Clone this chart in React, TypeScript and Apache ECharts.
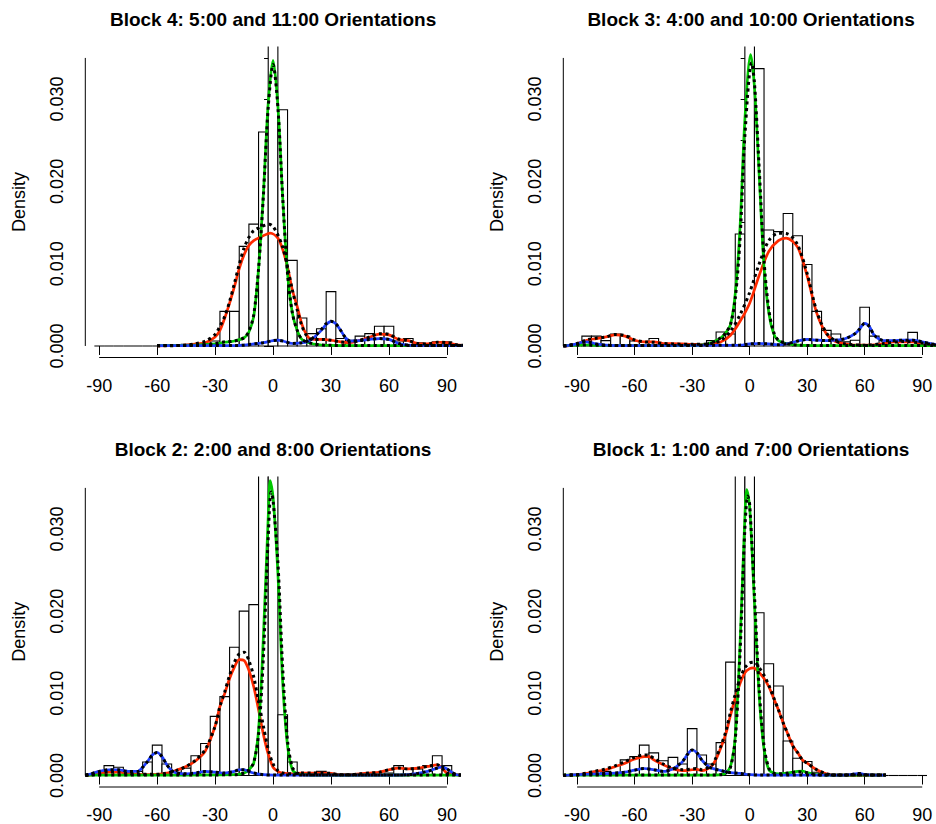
import React, { useEffect, useRef } from "react";
import * as echarts from "echarts";

// ---------- data (densities are in units of 0.001) ----------
const binCenters = [-90, -85, -80, -75, -70, -65, -60, -55, -50, -45, -40, -35, -30, -25, -20, -15, -10, -5, 0, 5, 10, 15, 20, 25, 30, 35, 40, 45, 50, 55, 60, 65, 70, 75, 80, 85, 90];
const binWidth = 5;

const histB4 = [0, 0, 0, 0, 0, 0, 0, 0, 0, 0.2, 0.2, 0.3, 0.6, 4.2, 4.2, 12.1, 14.8, 26.0, 45, 28.7, 10.4, 3.4, 1.5, 2.1, 6.6, 0.9, 0.7, 1.2, 1.5, 2.4, 2.4, 0.6, 0.9, 0.4, 0.2, 0.5, 0.5];
const histB3 = [0, 1.2, 1.2, 0.65, 1.45, 1.2, 0.6, 0.5, 0.9, 0.3, 0.3, 0.3, 0.3, 0.2, 0.65, 1.7, 1.45, 13.6, 45, 33.7, 14.1, 13.9, 16.1, 13.4, 9.9, 4.2, 1.9, 1.45, 0.5, 0.7, 4.7, 1.2, 0.25, 0.65, 0.65, 1.65, 0.3];
const histB2 = [0.4, 1.2, 1.0, 0.5, 0.5, 1.65, 3.7, 1.4, 0.4, 0.9, 2.4, 3.9, 7.2, 9.6, 15.6, 20.0, 20.8, 40, 42, 7.4, 1.65, 0.3, 0.2, 0.5, 0.1, 0, 0, 0, 0.1, 0.1, 0.3, 1.2, 0.8, 0.8, 1.2, 2.4, 1.2];
const histB1 = [0, 0.2, 0.5, 0.5, 0.3, 1.9, 2.3, 3.7, 2.75, 1.8, 2.2, 1.4, 5.7, 2.5, 1.4, 4.0, 13.8, 40, 45, 19.8, 13.6, 10.9, 4.2, 2.1, 1.7, 0.4, 0, 0, 0, 0.1, 0, 0, 0, 0, 0, 0, 0];

// Block 4
const greenB4 = [[-60, 0.05], [-50, 0.08], [-40, 0.12], [-35, 0.18], [-30, 0.25], [-25, 0.45], [-20, 0.6], [-15, 1.0], [-12.5, 1.7], [-10, 3.6], [-7.5, 9.4], [-5, 18.5], [-2.5, 29.5], [0, 34.7], [2.5, 29.2], [5, 18.0], [7.5, 8.8], [10, 4.0], [12.5, 1.9], [15, 0.8], [20, 0.3], [25, 0.12], [30, 0.08], [40, 0.05], [70, 0.05], [100, 0.05]];
const redB4 = [[-60, 0], [-50, 0.05], [-45, 0.1], [-40, 0.25], [-35, 0.4], [-30, 1.1], [-27.5, 1.9], [-25, 3.4], [-22.5, 5.2], [-20, 7.2], [-17.5, 9.4], [-15, 11.1], [-12.5, 12.2], [-10, 12.8], [-5, 13.4], [-1.5, 13.7], [2.5, 13.1], [5, 11.7], [7.5, 9.6], [10, 6.8], [12.5, 4.8], [15, 2.6], [17.5, 1.3], [20, 0.8], [25, 0.8], [30, 0.7], [35, 0.5], [40, 0.4], [45, 0.7], [50, 1.05], [55, 1.45], [60, 1.35], [65, 0.8], [70, 0.65], [75, 0.3], [80, 0.25], [85, 0.45], [90, 0.4], [95, 0.15], [100, 0.05]];
const blueB4 = [[-60, 0.05], [-20, 0.05], [-15, 0.1], [-10, 0.25], [-5, 0.4], [0, 0.65], [2.5, 0.7], [5, 0.6], [10, 0.3], [15, 0.4], [17.5, 0.5], [20, 0.8], [25, 1.9], [27.5, 2.6], [30, 3.0], [32.5, 2.7], [35, 1.9], [37.5, 1.0], [40, 0.6], [45, 0.65], [50, 0.8], [55, 0.9], [60, 0.8], [65, 0.3], [70, 0.1], [80, 0.05], [100, 0.05]];
const dGreenB4 = [[-60, 0.05], [-40, 0.1], [-30, 0.3], [-25, 0.5], [-20, 0.6], [-15, 1.0], [-12.5, 1.8], [-10, 3.8], [-7.5, 9.4], [-5, 18.3], [-2.5, 29.0], [0, 34.2], [2.5, 29.0], [5, 18.0], [7.5, 8.8], [10, 4.0], [12.5, 1.9], [15, 0.8], [20, 0.3], [25, 0.12], [30, 0.08], [40, 0.05], [100, 0.05]];
const dRedB4 = [[-60, 0], [-45, 0.1], [-40, 0.3], [-35, 0.6], [-30, 1.4], [-27.5, 2.4], [-25, 3.6], [-22.5, 5.4], [-20, 7.6], [-17.5, 9.9], [-15, 11.9], [-12.5, 13.2], [-10, 14.0], [-5, 14.6], [-2, 14.8], [0, 14.5], [2.5, 13.5], [5, 12.0], [7.5, 9.6], [10, 6.8], [12.5, 4.4], [15, 2.4], [17.5, 1.2], [20, 0.8], [25, 0.8], [30, 0.7], [35, 0.5], [40, 0.45], [45, 0.7], [50, 1.1], [55, 1.5], [60, 1.4], [65, 0.85], [70, 0.65], [75, 0.3], [80, 0.25], [85, 0.45], [90, 0.4], [95, 0.15], [100, 0.05]];
const dBlueB4 = [[-60, 0.05], [-20, 0.05], [-15, 0.1], [-10, 0.25], [-5, 0.4], [0, 0.65], [2.5, 0.7], [5, 0.6], [10, 0.3], [15, 0.4], [17.5, 0.55], [20, 0.85], [25, 2.0], [27.5, 2.7], [30, 3.0], [32.5, 2.7], [35, 1.9], [37.5, 1.0], [40, 0.6], [45, 0.65], [50, 0.8], [55, 0.9], [60, 0.8], [65, 0.3], [70, 0.1], [80, 0.05], [100, 0.05]];

// Block 3
const greenB3 = [[-97.2, 0.05], [-90, 0.1], [-85, 0.12], [-80, 0.08], [-60, 0.05], [-40, 0.05], [-30, 0.08], [-25, 0.1], [-20, 0.4], [-15, 1.0], [-12.5, 1.6], [-10, 2.6], [-7.5, 6.4], [-5, 14.5], [-2.5, 27.5], [0.5, 35.4], [2.5, 31.5], [5, 20.6], [7.5, 9.6], [10, 4.0], [12.5, 1.5], [15, 0.65], [20, 0.25], [25, 0.1], [40, 0.05], [97.2, 0.05]];
const redB3 = [[-97.2, 0], [-95, 0.02], [-90, 0.25], [-85, 0.7], [-80, 0.9], [-75, 1.1], [-70, 1.35], [-65, 1.2], [-60, 0.7], [-55, 0.5], [-50, 0.5], [-45, 0.3], [-40, 0.3], [-35, 0.25], [-30, 0.2], [-25, 0.1], [-20, 0.25], [-15, 0.5], [-10, 1.3], [-5, 3.0], [0, 5.2], [5, 8.6], [10, 11.5], [15, 12.8], [19, 13.1], [25, 12.0], [30, 8.5], [35, 4.0], [40, 1.5], [45, 0.5], [50, 0.25], [55, 0.1], [60, 0.1], [65, 0.15], [70, 0.3], [75, 0.5], [80, 0.5], [85, 0.5], [90, 0.3], [95, 0.15], [97.2, 0.1]];
const blueB3 = [[-97.2, 0], [-95, 0.05], [-90, 0.25], [-87.5, 0.45], [-85, 0.5], [-82.5, 0.4], [-80, 0.25], [-75, 0.1], [-70, 0.05], [-5, 0.1], [0, 0.25], [5, 0.3], [10, 0.25], [15, 0.15], [20, 0.3], [25, 0.6], [30, 0.8], [35, 0.7], [40, 0.65], [45, 0.7], [50, 0.9], [55, 1.5], [57.5, 2.1], [60, 2.75], [62.5, 2.35], [65, 1.3], [70, 0.65], [75, 0.65], [80, 0.7], [85, 0.7], [90, 0.5], [95, 0.25], [97.2, 0.15]];
const dGreenB3 = [[-97.2, 0.05], [-90, 0.1], [-85, 0.12], [-80, 0.08], [-60, 0.05], [-40, 0.05], [-30, 0.08], [-25, 0.1], [-20, 0.4], [-15, 1.0], [-12.5, 1.6], [-10, 2.6], [-7.5, 5.8], [-5, 13.0], [-2.5, 25.5], [1, 34.4], [2.5, 32.0], [5, 21.5], [7.5, 10.4], [10, 4.4], [12.5, 1.7], [15, 0.7], [20, 0.25], [25, 0.1], [40, 0.05], [97.2, 0.05]];
const dRedB3 = [[-97.2, 0], [-95, 0.03], [-90, 0.3], [-85, 0.75], [-80, 0.95], [-75, 1.1], [-70, 1.4], [-65, 1.25], [-60, 0.75], [-55, 0.5], [-50, 0.45], [-45, 0.3], [-40, 0.25], [-30, 0.2], [-20, 0.3], [-15, 0.7], [-10, 1.8], [-5, 3.8], [0, 6.5], [5, 10.0], [10, 12.8], [15, 13.7], [20, 13.6], [25, 12.3], [30, 8.8], [35, 4.2], [40, 1.6], [45, 0.6], [50, 0.25], [60, 0.1], [70, 0.3], [80, 0.55], [90, 0.35], [97.2, 0.1]];
const dBlueB3 = [[-97.2, 0], [-95, 0.05], [-90, 0.25], [-87.5, 0.45], [-85, 0.5], [-82.5, 0.4], [-80, 0.25], [-75, 0.1], [-70, 0.05], [-5, 0.1], [0, 0.25], [5, 0.3], [10, 0.25], [15, 0.15], [20, 0.3], [25, 0.6], [30, 0.8], [35, 0.7], [40, 0.65], [45, 0.7], [50, 0.9], [55, 1.5], [57.5, 2.1], [60, 2.75], [62.5, 2.35], [65, 1.3], [70, 0.65], [75, 0.65], [80, 0.7], [85, 0.7], [90, 0.5], [95, 0.25], [97.2, 0.15]];

// Block 2
const greenB2 = [[-97.2, 0.05], [-60, 0.05], [-20, 0.1], [-15, 0.3], [-12.5, 0.7], [-10, 1.5], [-7.5, 5.6], [-5, 16.9], [-2.5, 31.5], [-1.5, 35.9], [0, 33.9], [2.5, 24.6], [5, 11.3], [7.5, 3.6], [10, 0.7], [12.5, 0.2], [15, 0.1], [20, 0.05], [97.2, 0.05]];
const redB2 = [[-97.2, 0], [-95, 0.05], [-90, 0.2], [-85, 0.4], [-80, 0.4], [-75, 0.25], [-70, 0.15], [-65, 0.12], [-60, 0.15], [-55, 0.3], [-50, 0.65], [-45, 1.1], [-40, 1.8], [-35, 3.0], [-30, 6.0], [-27.5, 8.4], [-25, 10.0], [-22.5, 11.8], [-20, 13.2], [-17.5, 14.1], [-15, 14.0], [-12.5, 12.8], [-10, 10.8], [-7.5, 8.0], [-5, 5.0], [-2.5, 2.6], [0, 1.0], [2.5, 0.5], [5, 0.3], [10, 0.2], [15, 0.3], [20, 0.3], [25, 0.3], [30, 0.25], [35, 0.1], [40, 0.1], [45, 0.2], [50, 0.3], [55, 0.4], [60, 0.7], [65, 0.9], [70, 0.8], [75, 0.9], [80, 1.1], [85, 1.3], [87.5, 0.9], [90, 0.3], [95, 0.1], [97.2, 0.05]];
const blueB2 = [[-97.2, 0.05], [-95, 0.15], [-90, 0.5], [-85, 0.7], [-80, 0.7], [-75, 0.5], [-70, 0.5], [-67.5, 1.0], [-65, 1.7], [-62.5, 2.5], [-60, 2.8], [-57.5, 2.3], [-55, 1.3], [-52.5, 0.6], [-50, 0.3], [-45, 0.2], [-40, 0.3], [-35, 0.5], [-30, 0.4], [-25, 0.3], [-20, 0.5], [-17.5, 0.7], [-15, 0.7], [-12.5, 0.5], [-10, 0.3], [-5, 0.1], [0, 0.05], [60, 0.05], [70, 0.1], [75, 0.25], [80, 0.5], [85, 0.9], [87.5, 1.05], [90, 0.8], [92.5, 0.4], [95, 0.1], [97.2, 0.05]];
const dGreenB2 = [[-97.2, 0.05], [-60, 0.05], [-20, 0.1], [-15, 0.3], [-12.5, 0.7], [-10, 1.6], [-7.5, 5.0], [-5, 14.5], [-2.5, 29.0], [-1, 34.5], [0, 33.5], [2.5, 26.0], [5, 13.0], [7.5, 4.2], [10, 1.0], [12.5, 0.3], [15, 0.1], [20, 0.05], [97.2, 0.05]];
const dRedB2 = [[-97.2, 0], [-95, 0.05], [-90, 0.25], [-85, 0.45], [-80, 0.4], [-75, 0.25], [-70, 0.15], [-60, 0.15], [-55, 0.3], [-50, 0.6], [-45, 1.1], [-40, 1.9], [-35, 3.2], [-30, 6.0], [-27.5, 8.4], [-25, 10.2], [-22.5, 12.2], [-20, 13.8], [-17.5, 14.8], [-15, 15.0], [-12.5, 14.0], [-10, 12.0], [-7.5, 9.0], [-5, 6.0], [-2.5, 3.2], [0, 1.4], [2.5, 0.6], [5, 0.3], [10, 0.2], [15, 0.3], [20, 0.3], [25, 0.3], [30, 0.25], [35, 0.1], [40, 0.1], [45, 0.2], [50, 0.3], [55, 0.4], [60, 0.7], [65, 0.9], [70, 0.8], [75, 0.9], [80, 1.1], [85, 1.3], [87.5, 0.9], [90, 0.3], [95, 0.1], [97.2, 0.05]];
const dBlueB2 = [[-97.2, 0.05], [-95, 0.15], [-90, 0.5], [-85, 0.7], [-80, 0.7], [-75, 0.5], [-70, 0.5], [-67.5, 1.0], [-65, 1.7], [-62.5, 2.5], [-60, 2.8], [-57.5, 2.3], [-55, 1.3], [-52.5, 0.6], [-50, 0.3], [-45, 0.2], [-40, 0.3], [-35, 0.5], [-30, 0.4], [-25, 0.3], [-20, 0.5], [-17.5, 0.7], [-15, 0.7], [-12.5, 0.5], [-10, 0.3], [-5, 0.1], [0, 0.05], [60, 0.05], [70, 0.1], [75, 0.25], [80, 0.5], [85, 0.9], [87.5, 1.05], [90, 0.8], [92.5, 0.4], [95, 0.1], [97.2, 0.05]];

// Block 1
const greenB1 = [[-97.2, 0.05], [-20, 0.05], [-15, 0.1], [-12.5, 0.3], [-10, 1.1], [-7.5, 4.8], [-5, 16.1], [-2.5, 31.5], [-1.5, 34.8], [0, 32.7], [2.5, 21.0], [5, 9.6], [7.5, 3.2], [10, 0.7], [12.5, 0.3], [15, 0.2], [20, 0.3], [25, 0.5], [27.5, 0.55], [30, 0.35], [35, 0.1], [40, 0.05], [71, 0.05]];
const redB1 = [[-97.2, 0], [-90, 0.1], [-85, 0.25], [-80, 0.5], [-75, 0.7], [-70, 1.1], [-65, 1.5], [-60, 2.0], [-55, 2.3], [-52.5, 2.3], [-50, 1.9], [-45, 1.3], [-40, 0.8], [-35, 0.6], [-30, 0.7], [-27.5, 0.75], [-25, 0.6], [-20, 1.1], [-17.5, 2.0], [-15, 3.4], [-12.5, 5.0], [-10, 7.3], [-7.5, 9.4], [-5, 11.2], [-2.5, 12.5], [0, 13.0], [2, 13.1], [5, 12.5], [7.5, 11.8], [10, 10.8], [12.5, 9.4], [15, 8.0], [17.5, 6.4], [20, 5.0], [22.5, 3.6], [25, 2.8], [27.5, 1.9], [30, 1.5], [35, 0.7], [40, 0.2], [45, 0.05], [71, 0.05]];
const blueB1 = [[-97.2, 0], [-90, 0.1], [-80, 0.2], [-70, 0.3], [-65, 0.4], [-60, 0.65], [-55, 0.85], [-50, 0.7], [-45, 0.5], [-40, 0.8], [-37.5, 1.2], [-35, 1.7], [-32.5, 2.55], [-30, 3.1], [-27.5, 2.75], [-25, 1.9], [-22.5, 1.3], [-20, 0.9], [-15, 0.6], [-10, 0.35], [-5, 0.25], [0, 0.1], [5, 0.05], [50, 0.05], [55, 0.2], [57.5, 0.25], [60, 0.1], [65, 0.05], [71, 0.05]];
const dGreenB1 = [[-97.2, 0.05], [-20, 0.05], [-15, 0.1], [-12.5, 0.3], [-10, 1.0], [-7.5, 4.4], [-5, 15.0], [-2.5, 30.0], [-1, 34.0], [0, 33.0], [2.5, 22.0], [5, 10.4], [7.5, 3.6], [10, 0.9], [12.5, 0.3], [15, 0.2], [20, 0.3], [25, 0.45], [30, 0.35], [35, 0.1], [40, 0.05], [71, 0.05]];
const dRedB1 = [[-97.2, 0], [-90, 0.1], [-85, 0.3], [-80, 0.55], [-75, 0.8], [-70, 1.2], [-65, 1.7], [-60, 2.2], [-55, 2.5], [-52.5, 2.45], [-50, 2.1], [-45, 1.4], [-40, 0.9], [-35, 0.7], [-30, 0.8], [-27.5, 0.85], [-25, 0.7], [-20, 1.2], [-17.5, 2.2], [-15, 3.6], [-12.5, 5.3], [-10, 7.7], [-7.5, 9.9], [-5, 11.8], [-2.5, 13.1], [0, 13.7], [2.5, 13.8], [5, 13.1], [7.5, 12.2], [10, 11.0], [12.5, 9.5], [15, 8.0], [17.5, 6.4], [20, 5.0], [22.5, 3.6], [25, 2.8], [27.5, 1.9], [30, 1.5], [35, 0.7], [40, 0.2], [45, 0.05], [71, 0.05]];
const dBlueB1 = [[-97.2, 0], [-90, 0.1], [-80, 0.2], [-70, 0.3], [-65, 0.4], [-60, 0.65], [-55, 0.85], [-50, 0.7], [-45, 0.5], [-40, 0.8], [-37.5, 1.2], [-35, 1.7], [-32.5, 2.55], [-30, 3.1], [-27.5, 2.75], [-25, 1.9], [-22.5, 1.3], [-20, 0.9], [-15, 0.6], [-10, 0.35], [-5, 0.25], [0, 0.1], [5, 0.05], [50, 0.05], [55, 0.2], [57.5, 0.25], [60, 0.1], [65, 0.05], [71, 0.05]];

const titles = [
  "Block 4: 5:00 and 11:00 Orientations",
  "Block 3: 4:00 and 10:00 Orientations",
  "Block 2: 2:00 and 8:00 Orientations",
  "Block 1: 1:00 and 7:00 Orientations",
];

const xTicks = [-90, -60, -30, 0, 30, 60, 90];
const yTicks = [0, 5, 10, 15, 20, 25, 30, 35];
const yLabelValues = [0, 10, 20, 30];

// ---------- layout / style ----------
const X_MIN = -97.2;
const X_MAX = 97.2;
const Y_MIN = -1.4;
const Y_MAX = 36.4;
const GW = 375.5;
const GH = 311.1;
const gridPos = [
  { left: 85.3, top: 46.4 },
  { left: 563.3, top: 46.4 },
  { left: 85.3, top: 476.4 },
  { left: 563.3, top: 476.4 },
];
const FONT = '"Liberation Sans", Arial, Helvetica, sans-serif';
const C_GREEN = "#00c800";
const C_RED = "#ff2a00";
const C_BLUE = "#1f3fff";

const panels = [
  { hist: histB4, green: greenB4, red: redB4, blue: blueB4, dG: dGreenB4, dR: dRedB4, dB: dBlueB4 },
  { hist: histB3, green: greenB3, red: redB3, blue: blueB3, dG: dGreenB3, dR: dRedB3, dB: dBlueB3 },
  { hist: histB2, green: greenB2, red: redB2, blue: blueB2, dG: dGreenB2, dR: dRedB2, dB: dBlueB2 },
  { hist: histB1, green: greenB1, red: redB1, blue: blueB1, dG: dGreenB1, dR: dRedB1, dB: dBlueB1 },
];

function buildOption() {
  const grid: any[] = [];
  const xAxis: any[] = [];
  const yAxis: any[] = [];
  const series: any[] = [];
  const graphic: any[] = [];

  panels.forEach((p, i) => {
    const g = gridPos[i];
    grid.push({ left: g.left, top: g.top, width: GW, height: GH, containLabel: false });
    xAxis.push({
      gridIndex: i,
      type: "value",
      min: X_MIN,
      max: X_MAX,
      axisLine: { show: false },
      splitLine: { show: false },
      axisTick: { show: true, customValues: xTicks, length: 9, lineStyle: { color: "#000", width: 1 } },
      axisLabel: { show: true, customValues: xTicks, margin: 19, fontSize: 18, color: "#000", fontFamily: FONT },
    });
    yAxis.push({
      gridIndex: i,
      type: "value",
      min: Y_MIN,
      max: Y_MAX,
      name: "Density",
      nameLocation: "middle",
      nameRotate: 90,
      nameGap: 57,
      nameTextStyle: { fontSize: 18, color: "#000", fontFamily: FONT },
      axisLine: { show: false },
      splitLine: { show: false },
      axisTick: { show: true, customValues: yTicks, length: 9, lineStyle: { color: "#000", width: 1 } },
      axisLabel: {
        show: true,
        customValues: yLabelValues,
        rotate: 90,
        margin: 19,
        fontSize: 18,
        color: "#000",
        fontFamily: FONT,
        formatter: (v: number) => (v / 1000).toFixed(3),
      },
    });

    const histData = binCenters.map((c, k) => [c, p.hist[k]]);
    series.push({
      type: "custom",
      xAxisIndex: i,
      yAxisIndex: i,
      clip: true,
      silent: true,
      data: histData,
      renderItem: (params: any, api: any) => {
        const c = api.value(0);
        const h = api.value(1);
        const p0 = api.coord([c - binWidth / 2, 0]);
        const p1 = api.coord([c + binWidth / 2, h]);
        if (h <= 0) {
          return {
            type: "line",
            shape: { x1: p0[0], y1: p0[1], x2: p1[0], y2: p0[1] },
            style: { stroke: "#000", lineWidth: 1.1, fill: null },
          };
        }
        return {
          type: "rect",
          shape: { x: p0[0], y: p1[1], width: p1[0] - p0[0], height: p0[1] - p1[1] },
          style: { fill: "#fff", stroke: "#000", lineWidth: 1.1 },
        };
      },
      z: 1,
    });

    const addLine = (data: number[][], color: string, dotted: boolean, z: number) => {
      series.push({
        type: "line",
        xAxisIndex: i,
        yAxisIndex: i,
        data,
        smooth: 0.3,
        showSymbol: false,
        symbol: "none",
        silent: true,
        clip: true,
        lineStyle: {
          color,
          width: dotted ? 3 : 2.7,
          type: dotted ? [3, 3.5] : "solid",
        },
        z,
      });
    };
    addLine(p.red, C_RED, false, 2);
    addLine(p.green, C_GREEN, false, 2);
    addLine(p.blue, C_BLUE, false, 2);
    addLine(p.dR, "#000", true, 3);
    addLine(p.dG, "#000", true, 3);
    addLine(p.dB, "#000", true, 3);

    // axis lines (R style: only from first to last tick)
    series.push({
      type: "custom",
      xAxisIndex: i,
      yAxisIndex: i,
      clip: false,
      silent: true,
      data: [[0, 0]],
      renderItem: (params: any, api: any) => {
        const a = api.coord([xTicks[0], Y_MIN]);
        const b = api.coord([xTicks[xTicks.length - 1], Y_MIN]);
        const c = api.coord([X_MIN, yTicks[0]]);
        const d = api.coord([X_MIN, yTicks[yTicks.length - 1]]);
        return {
          type: "group",
          children: [
            { type: "line", shape: { x1: a[0], y1: a[1], x2: b[0], y2: b[1] }, style: { stroke: "#000", lineWidth: 1 } },
            { type: "line", shape: { x1: c[0], y1: c[1], x2: d[0], y2: d[1] }, style: { stroke: "#000", lineWidth: 1 } },
          ],
        };
      },
      z: 5,
    });

    graphic.push({
      type: "text",
      x: g.left + GW / 2,
      y: g.top - 27,
      style: {
        text: titles[i],
        fill: "#000",
        font: `bold 19px ${FONT}`,
        textAlign: "center",
        textVerticalAlign: "middle",
      },
    });
  });

  return { animation: false, backgroundColor: "#fff", grid, xAxis, yAxis, series, graphic };
}

export default function App() {
  const ref = useRef<HTMLDivElement>(null);
  useEffect(() => {
    document.body.style.margin = "0";
    if (!ref.current) return;
    const chart = echarts.init(ref.current, undefined, { renderer: "svg" });
    chart.setOption(buildOption() as any);
    return () => {
      chart.dispose();
    };
  }, []);
  return <div ref={ref} style={{ width: 936, height: 824, background: "#fff" }} />;
}
